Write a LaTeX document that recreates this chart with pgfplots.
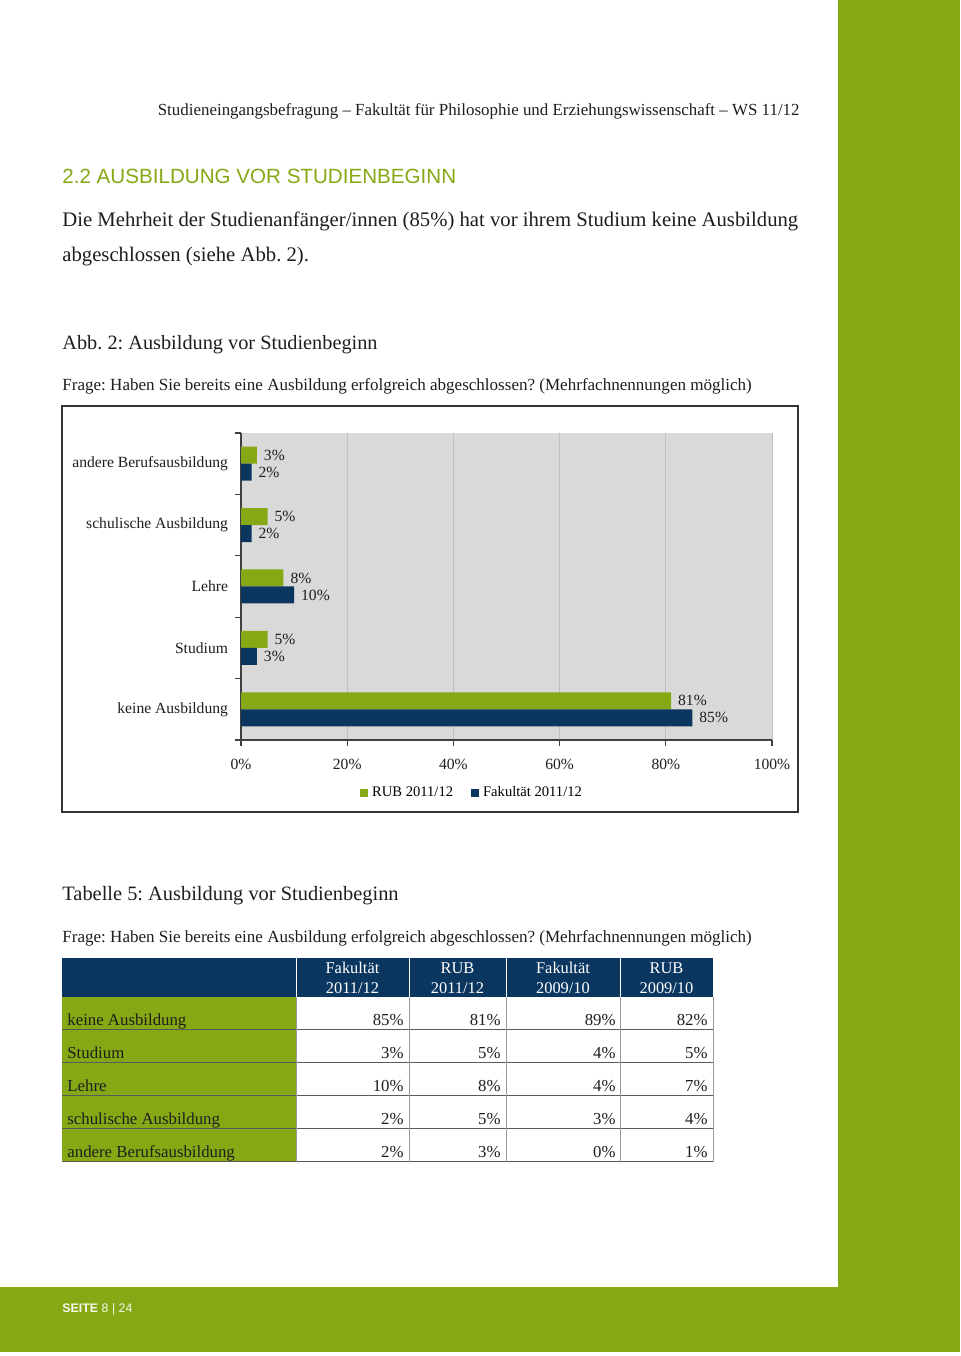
\documentclass[border=0pt]{standalone}
\usepackage{fontspec}
\setmainfont{Liberation Serif}
\newfontfamily\headsans{Liberation Sans}
\usepackage{pgfplots}
\pgfplotsset{compat=1.18}
\definecolor{rubgreen}{RGB}{134,168,20}
\definecolor{navy}{RGB}{10,54,96}
\definecolor{plotgray}{RGB}{217,217,217}
\definecolor{gridgray}{RGB}{192,192,192}
\definecolor{txt}{RGB}{30,30,30}
\newcommand{\fs}[1]{\fontsize{#1}{#1}\selectfont}
\frenchspacing
\begin{document}
\begin{tikzpicture}
\begin{scope}[x=0.5pt,y=0.5pt]
\fill[white] (0,0) rectangle (960,1356);
\useasboundingbox (0,0) rectangle (960,1356);
\fill[rubgreen] (838,4) rectangle (960,1356);
\fill[rubgreen] (0,4) rectangle (960,69);
\tikzset{t/.style={inner sep=0pt, text=txt}}
% header
\node[t, anchor=base east, font=\fs{8.46}] at (800,1240) {Studieneingangsbefragung -- Fakultät für Philosophie und Erziehungswissenschaft -- WS 11/12};
\node[t, anchor=base west, font=\headsans\fs{10.3}, text=rubgreen] at (62,1172) {2.2 AUSBILDUNG VOR STUDIENBEGINN};
\node[t, anchor=base west, font=\fs{10.35}] at (62,1129) {Die Mehrheit der Studienanfänger/innen (85\%) hat vor ihrem Studium keine Ausbildung};
\node[t, anchor=base west, font=\fs{10.35}] at (62,1094) {abgeschlossen (siehe Abb. 2).};
\node[t, anchor=base west, font=\fs{10.15}] at (62,1006) {Abb. 2: Ausbildung vor Studienbeginn};
\node[t, anchor=base west, font=\fs{8.52}] at (62,965) {Frage: Haben Sie bereits eine Ausbildung erfolgreich abgeschlossen? (Mehrfachnennungen möglich)};
% chart frame
\draw[black!80, line width=0.6pt] (62,950) rectangle (798,544);
% table
\node[t, anchor=base west, font=\fs{10.2}] at (62,455) {Tabelle 5: Ausbildung vor Studienbeginn};
\node[t, anchor=base west, font=\fs{8.52}] at (62,413) {Frage: Haben Sie bereits eine Ausbildung erfolgreich abgeschlossen? (Mehrfachnennungen möglich)};
\fill[navy] (62,359) rectangle (713,398);
\foreach \x in {296,409,506,620} \draw[white, line width=0.5pt] (\x,359) -- (\x,398);
\foreach \x/\a/\b in {352.5/Fakultät/2011\slash 12, 457.5/RUB/2011\slash 12, 563/Fakultät/2009\slash 10, 666.5/RUB/2009\slash 10} {
  \node[inner sep=0pt, anchor=base, text=white, font=\fs{8.2}] at (\x,382) {\a};
  \node[inner sep=0pt, anchor=base, text=white, font=\fs{8.2}] at (\x,362) {\b};
}
\foreach \lab/\a/\b/\c/\d [count=\i from 1] in {keine Ausbildung/85/81/89/82, Studium/3/5/4/5, Lehre/10/8/4/7, schulische Ausbildung/2/5/3/4, andere Berufsausbildung/2/3/0/1} {
  \pgfmathsetmacro\yb{359-33*\i}
  \fill[rubgreen] (62,\yb) rectangle (296,\yb+33);
  \node[t, anchor=base west, font=\fs{8.4}] at (67,\yb+4) {\lab};
  \node[t, anchor=base east, font=\fs{8.4}] at (404,\yb+4) {\a\%};
  \node[t, anchor=base east, font=\fs{8.4}] at (501,\yb+4) {\b\%};
  \node[t, anchor=base east, font=\fs{8.4}] at (616,\yb+4) {\c\%};
  \node[t, anchor=base east, font=\fs{8.4}] at (708,\yb+4) {\d\%};
  \draw[black!65, line width=0.5pt] (62,\yb) -- (713,\yb);
}
\foreach \x in {296,409,506,620,713} \draw[black!40, line width=0.5pt] (\x,194) -- (\x,359);
% footer
\node[inner sep=0pt, anchor=base west, text=white!92!rubgreen, font=\headsans\fs{6.2}] at (62,43) {\textbf{SEITE} 8 | 24};
\end{scope}
\begin{axis}[
  at={(120.5pt,308pt)}, anchor=south west,
  scale only axis, width=265.5pt, height=153.5pt,
  xbar, bar width=8.5pt,
  xmin=0, xmax=100, ymin=-0.5, ymax=4.5,
  axis x line*=bottom, axis y line*=left,
  axis background/.style={fill=plotgray},
  axis line style={-, black!75, line width=0.6pt},
  tick style={black!75, line width=0.6pt},
  tick align=outside, major tick length=3pt,
  xtick={0,20,40,60,80,100},
  xticklabel={\pgfmathprintnumber{\tick}\%},
  xticklabel style={yshift=-3pt},
  xmajorgrids, major grid style={gridgray, line width=0.5pt},
  ytick={-0.5,0.5,1.5,2.5,3.5,4.5}, yticklabel={\relax},
  extra y ticks={0,1,2,3,4},
  extra y tick labels={keine Ausbildung, Studium, Lehre, schulische Ausbildung, andere Berufsausbildung},
  extra y tick style={major tick length=0pt, grid=none, yticklabel style={xshift=-3pt}},
  ticklabel style={font=\fs{7.8}, text=txt},
  /pgf/number format/assume math mode=true,
  point meta=x,
  nodes near coords={\pgfmathprintnumber{\pgfplotspointmeta}\%},
  nodes near coords align={horizontal},
  every node near coord/.append style={font=\fs{7.8}, text=txt},
  legend style={at={(0.437,-0.173)}, anchor=center, legend columns=2, draw=none, fill=none, font=\fs{7.3},
    /tikz/every even column/.append style={column sep=7pt}},
  legend cell align=left,
]
\addplot[fill=rubgreen, draw=none, bar shift=4.25pt,
  legend image code/.code={\fill[rubgreen] (0pt,-2pt) rectangle (4pt,2pt);}]
  coordinates {(81,0) (5,1) (8,2) (5,3) (3,4)};
\addlegendentry{RUB 2011/12}
\addplot[fill=navy, draw=none, bar shift=-4.25pt,
  legend image code/.code={\fill[navy] (0pt,-2pt) rectangle (4pt,2pt);}]
  coordinates {(85,0) (3,1) (10,2) (2,3) (2,4)};
\addlegendentry{Fakultät 2011/12}
\end{axis}
\end{tikzpicture}
\end{document}
